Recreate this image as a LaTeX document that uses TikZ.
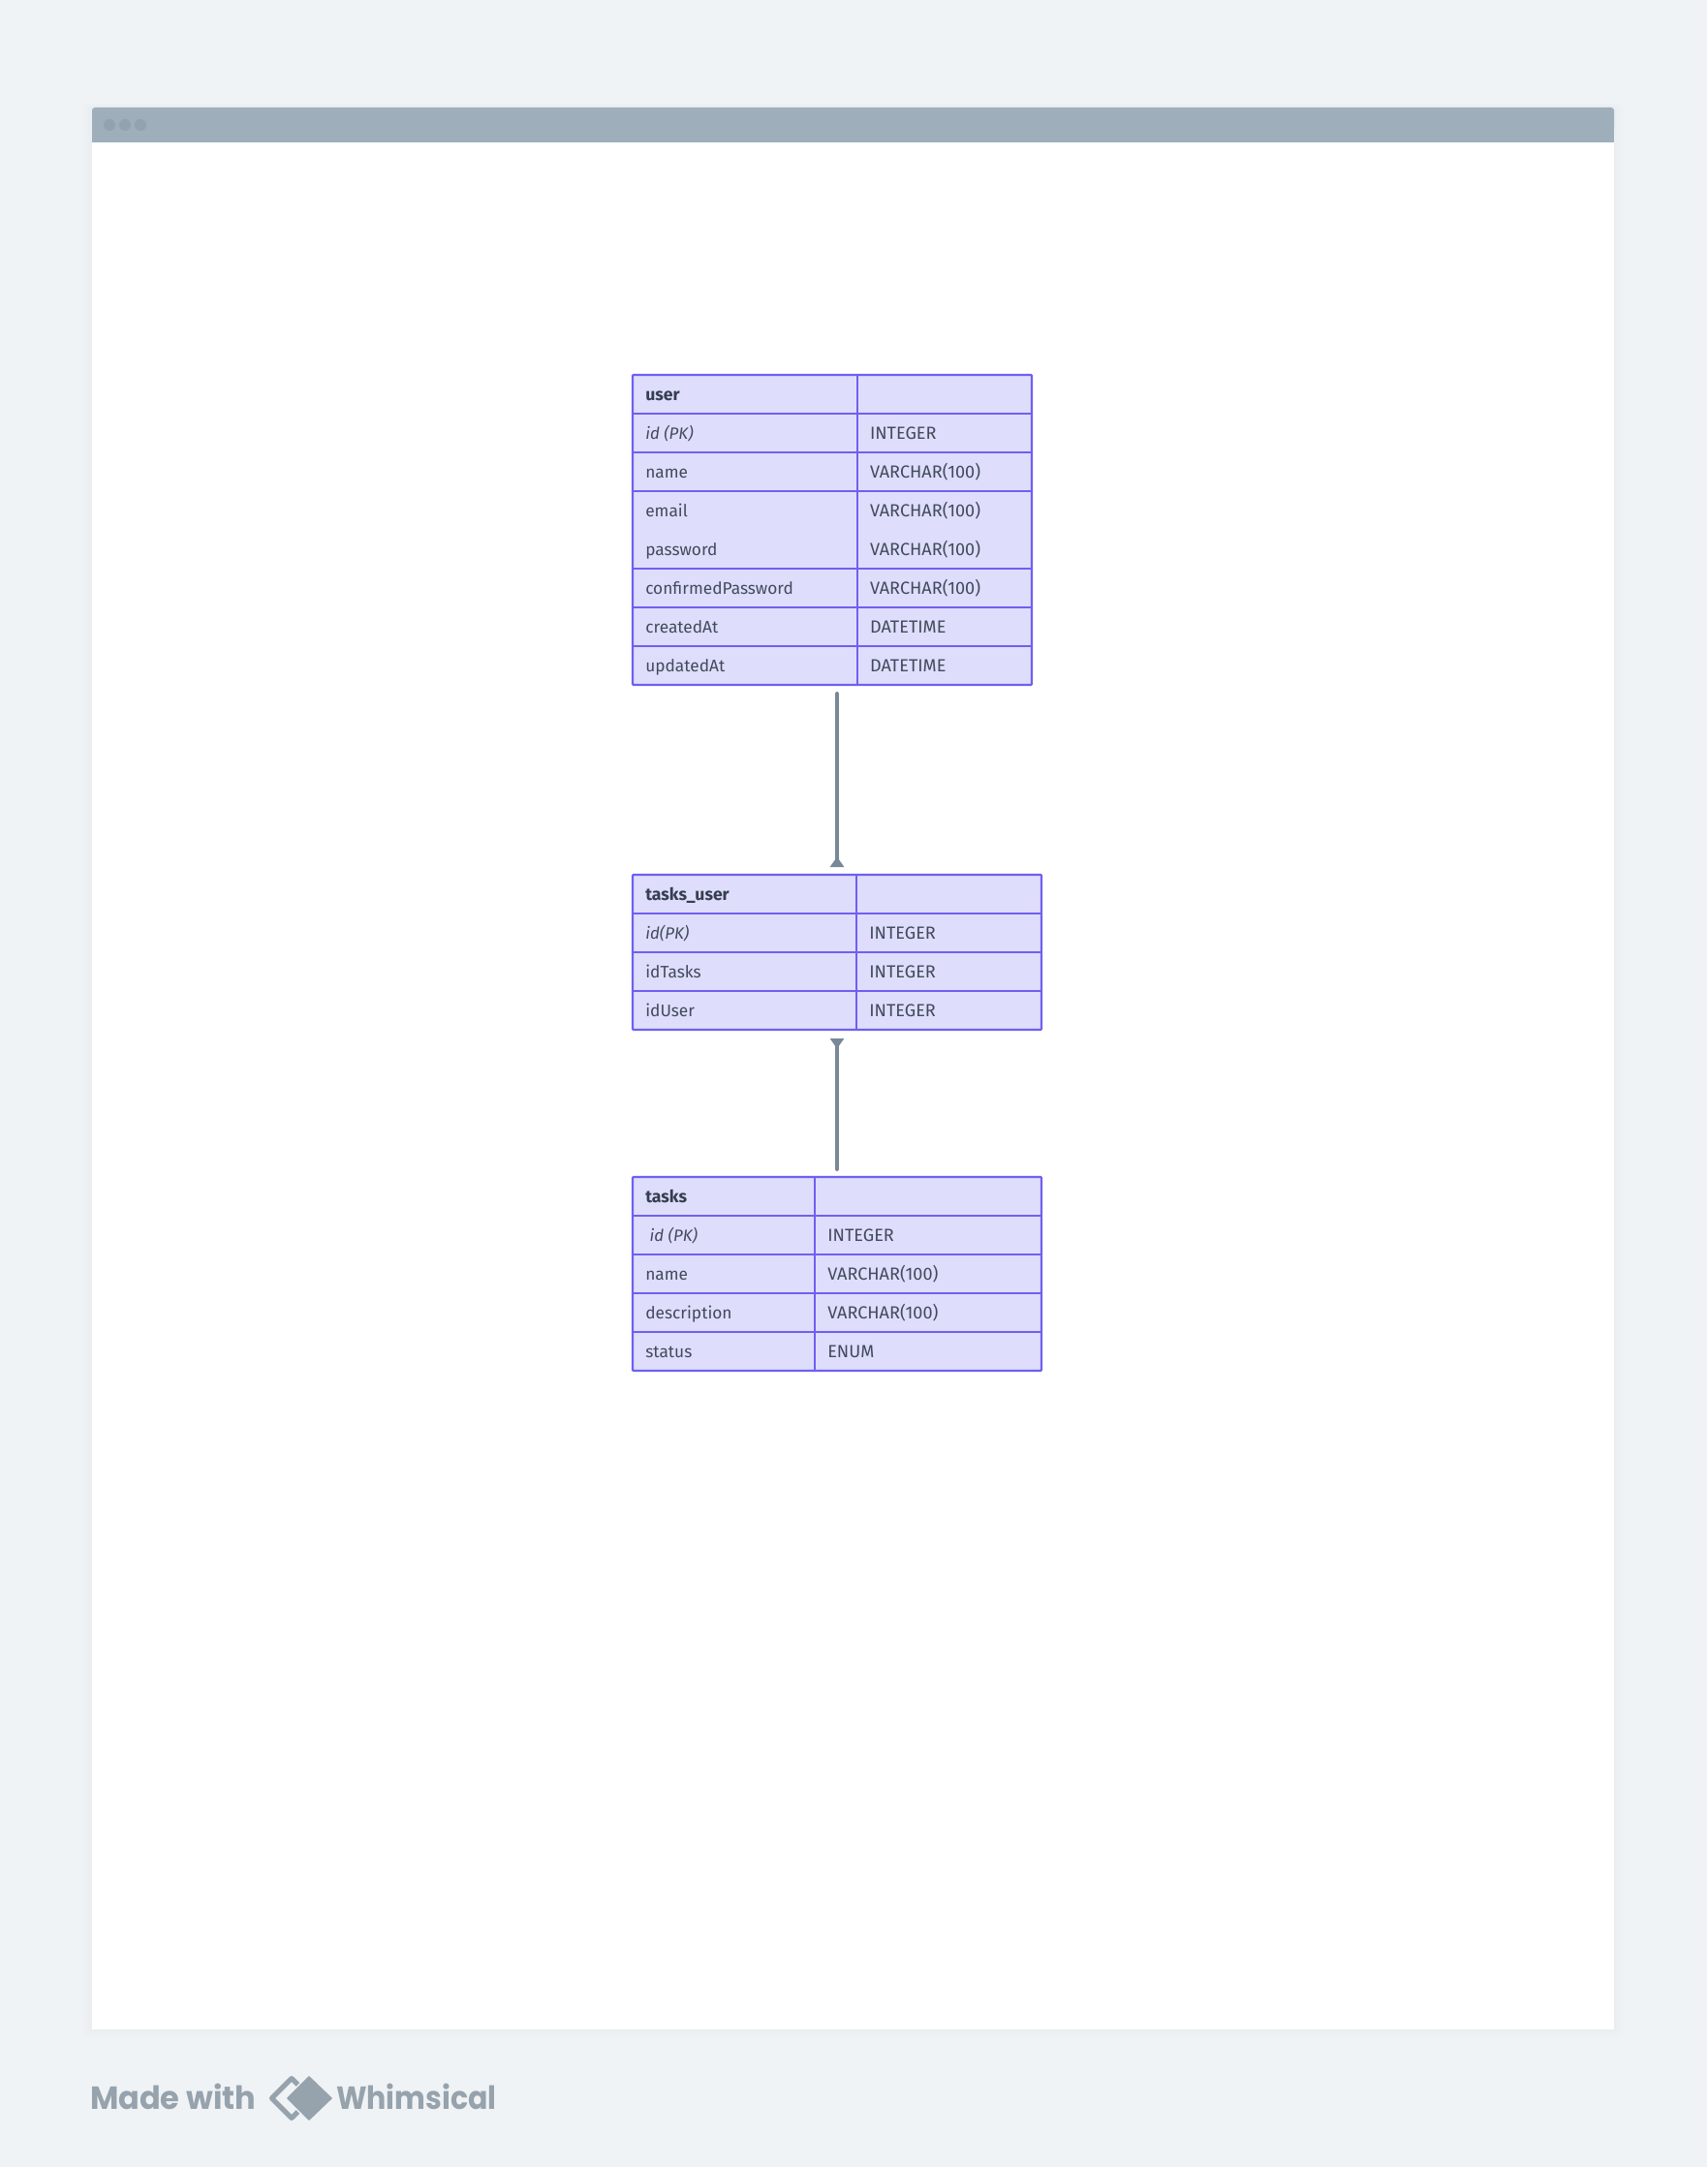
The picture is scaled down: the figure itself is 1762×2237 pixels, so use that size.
\documentclass[tikz,border=0pt]{standalone}
\usepackage{fontspec}
\setmainfont{Fira Sans}
\newfontfamily\logofont{Poppins}
\usetikzlibrary{arrows.meta}
\definecolor{pagebg}{HTML}{EFF3F6}
\definecolor{barcol}{HTML}{9FAEBB}
\definecolor{dotcol}{HTML}{93A2AF}
\definecolor{gridcol}{HTML}{6F60F0}
\definecolor{cellcol}{HTML}{DFDDFC}
\definecolor{txtcol}{HTML}{414B5C}
\definecolor{headcol}{HTML}{343F50}
\definecolor{conncol}{HTML}{788896}
\definecolor{logocol}{HTML}{96A2AC}
\tikzset{
  x=1pt,y=-1pt,
  tablebox/.style={draw=gridcol,fill=cellcol,line width=2.3pt,rounded corners=1pt,inner sep=0pt,outer sep=0pt,anchor=north west},
  gridline/.style={draw=gridcol,line width=2.3pt},
  lab/.style={anchor=base west,inner sep=0pt,outer sep=0pt,text=txtcol,font=\fontsize{17.3}{20}\selectfont},
  typelab/.style={lab,font=\fontsize{18.1}{20}\selectfont},
  headlab/.style={lab,text=headcol,font=\fontsize{17.6}{20}\selectfont\bfseries},
  keylab/.style={lab,font=\fontsize{16.9}{20}\selectfont\itshape},
  conn/.style={draw=conncol,line width=4pt,line cap=round},
  onetip/.style={-{Triangle[reversed,width=14pt,length=10.5pt]}},
  logolab/.style={anchor=base west,inner sep=0pt,outer sep=0pt,text=logocol,font=\logofont\fontsize{33}{36}\selectfont\bfseries},
}
\begin{document}
\begin{tikzpicture}
\useasboundingbox (0,0) rectangle (1762,2237);
\fill[pagebg] (0,0) rectangle (1762,2237);
% window shadow
\foreach \s in {10,8,6,4,2}{
  \fill[black!60!blue!30,opacity=0.012,rounded corners=4pt] (95-\s,111-\s/2) rectangle (1666+\s,2094+\s);
}
\fill[white] (95,147) rectangle (1666,2095);
\fill[barcol,rounded corners=3pt] (95,111) rectangle (1666,135);
\fill[barcol] (95,125) rectangle (1666,147);
\fill[dotcol] (113,129) circle (6);
\fill[dotcol] (129,129) circle (6);
\fill[dotcol] (145,129) circle (6);

% user table
\node[tablebox,minimum width=412pt,minimum height=320pt] (user) at (653,387) {};
\foreach \y in {427,467,507,587,627,667}{\draw[gridline] (user.west |- 0,\y) -- (user.east |- 0,\y);}
\draw[gridline] (885,387) -- (885,707);
\node[headlab] (u0a) at (666.3,413.3) {user};
\node[keylab] (u1a) at (666.3,453.3) {id (PK)};
\node[typelab] (u1b) at (898,453.3) {INTEGER};
\node[lab] (u2a) at (666.3,493.3) {name};
\node[typelab] (u2b) at (898,493.3) {VARCHAR(100)};
\node[lab] (u3a) at (666.3,533.3) {email};
\node[typelab] (u3b) at (898,533.3) {VARCHAR(100)};
\node[lab] (u4a) at (666.3,573.3) {password};
\node[typelab] (u4b) at (898,573.3) {VARCHAR(100)};
\node[lab] (u5a) at (666.3,613.3) {confirmedPassword};
\node[typelab] (u5b) at (898,613.3) {VARCHAR(100)};
\node[lab] (u6a) at (666.3,653.3) {createdAt};
\node[typelab] (u6b) at (898,653.3) {DATETIME};
\node[lab] (u7a) at (666.3,693.3) {updatedAt};
\node[typelab] (u7b) at (898,693.3) {DATETIME};

% tasks_user table
\node[tablebox,minimum width=422pt,minimum height=160pt] (tasksuser) at (653,903) {};
\foreach \y in {943,983,1023}{\draw[gridline] (tasksuser.west |- 0,\y) -- (tasksuser.east |- 0,\y);}
\draw[gridline] (884,903) -- (884,1063);
\node[headlab] (j0a) at (666.3,929.3) {tasks\_user};
\node[keylab] (j1a) at (666.3,969.3) {id(PK)};
\node[typelab] (j1b) at (897.3,969.3) {INTEGER};
\node[lab] (j2a) at (666.3,1009.3) {idTasks};
\node[typelab] (j2b) at (897.3,1009.3) {INTEGER};
\node[lab] (j3a) at (666.3,1049.3) {idUser};
\node[typelab] (j3b) at (897.3,1049.3) {INTEGER};

% tasks table
\node[tablebox,minimum width=422pt,minimum height=200pt] (tasks) at (653,1215) {};
\foreach \y in {1255,1295,1335,1375}{\draw[gridline] (tasks.west |- 0,\y) -- (tasks.east |- 0,\y);}
\draw[gridline] (841,1215) -- (841,1415);
\node[headlab] (t0a) at (666.3,1241.3) {tasks};
\node[keylab] (t1a) at (670.7,1281.3) {id (PK)};
\node[typelab] (t1b) at (854.3,1281.3) {INTEGER};
\node[lab] (t2a) at (666.3,1321.3) {name};
\node[typelab] (t2b) at (854.3,1321.3) {VARCHAR(100)};
\node[lab] (t3a) at (666.3,1361.3) {description};
\node[typelab] (t3b) at (854.3,1361.3) {VARCHAR(100)};
\node[lab] (t4a) at (666.3,1401.3) {status};
\node[typelab] (t4b) at (854.3,1401.3) {ENUM};

% connectors
\draw[conn,onetip,shorten <=9pt,shorten >=8pt]
  (user.south -| tasksuser.north) -- (tasksuser.north);
\draw[conn,onetip,shorten <=8pt,shorten >=9pt]
  (tasks.north) -- (tasksuser.south);

% footer
\node[logolab] (made) at (93,2177) {\scalebox{0.97}[1]{Made with}};
\node[logolab] (whim) at (347,2177) {\scalebox{0.91}[1]{Whimsical}};
\draw[logocol,line width=5pt,line join=round] (301,2145.5) -- (321.5,2166) -- (301,2186.5) -- (280.5,2166) -- cycle;
\draw[pagebg,fill=logocol,line width=2pt,line join=round] (319,2142) -- (343.5,2166) -- (319,2190) -- (295,2166) -- cycle;
\draw[logocol,line width=1.5pt,line join=round,fill=logocol] (319,2144) -- (342,2166) -- (319,2188) -- (297,2166) -- cycle;
\end{tikzpicture}
\end{document}
